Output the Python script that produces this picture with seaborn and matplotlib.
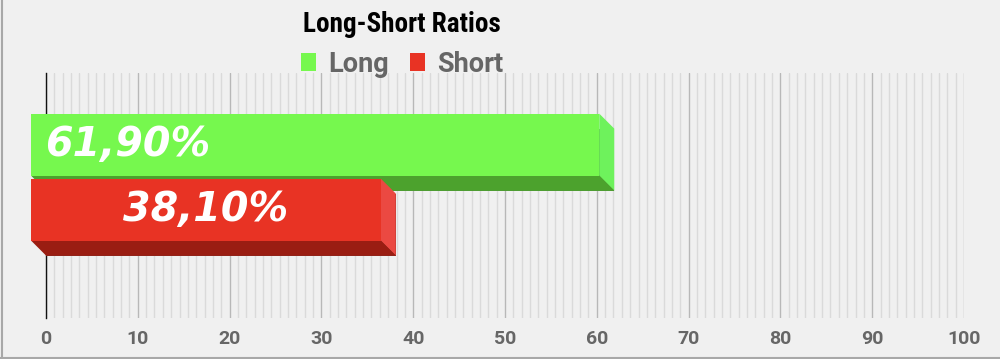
import numpy as np
import pandas as pd
import matplotlib
matplotlib.use("Agg")
import matplotlib.pyplot as plt
import seaborn as sns
from matplotlib.patches import Polygon, Rectangle, Patch
from matplotlib.transforms import IdentityTransform
from matplotlib.lines import Line2D
from matplotlib.ticker import FixedLocator
from matplotlib import font_manager

# ---------------- data ----------------
categories = ["Ratio"]
series = ["Long", "Short"]
values = [61.90, 38.10]
value_labels = ["61,90%", "38,10%"]
x_ticks = [0, 10, 20, 30, 40, 50, 60, 70, 80, 90, 100]
title_text = "Long-Short Ratios"

# ---------------- style ----------------
front_colors = ["#76f84e", "#e83324"]
side_colors = ["#6ef25c", "#eb4942"]
bottom_colors = ["#4ca22d", "#9a1d12"]
label_align = ["left", "center"]
BG = "#f0f0f0"
DEPTH = 15  # px


def pick_font(cands, weight="bold"):
    for c in cands:
        try:
            font_manager.findfont(font_manager.FontProperties(family=c, weight=weight),
                                  fallback_to_default=False)
            return c
        except Exception:
            pass
    return "DejaVu Sans"


sns.set_style("white")
ui_font = pick_font(["Roboto", "Lato", "DejaVu Sans"])
title_font = pick_font(["Roboto Condensed", "Liberation Sans Narrow", "Roboto"])
plt.rcParams["font.family"] = [ui_font, "DejaVu Sans"]

fig = plt.figure(figsize=(10, 3.59), dpi=100, facecolor=BG)
ax = fig.add_axes([46 / 1000, 41 / 359, 918 / 1000, 245 / 359])
ax.set_facecolor(BG)

df = pd.DataFrame({"cat": categories * len(series), "series": series, "value": values})
sns.barplot(data=df, y="cat", x="value", hue="series", orient="h",
            palette=dict(zip(series, bottom_colors)), width=0.53, gap=0.045,
            linewidth=0, legend=False, ax=ax, zorder=2)

ax.set_xlim(0, 100)
ax.set_ylim(0.514, -0.486)
ax.set_xlabel("")
ax.set_ylabel("")
ax.set_yticks([])
ax.set_xticks(x_ticks)
ax.set_xticklabels([str(t) for t in x_ticks])
minor = []
for a, b in zip(x_ticks[:-1], x_ticks[1:]):
    minor += [a + (b - a) * k / 11 for k in range(1, 11)]
ax.xaxis.set_minor_locator(FixedLocator(minor))
ax.grid(which="major", axis="x", color="#b8b8b8", lw=1.0, zorder=0)
ax.grid(which="minor", axis="x", color="#dadada", lw=1.0, zorder=0)
ax.grid(which="both", axis="y", visible=False)
ax.tick_params(axis="x", which="both", length=0, pad=9, labelsize=14,
               labelcolor="#666666")
for lab in ax.get_xticklabels():
    lab.set_fontweight("bold")
for s in ["top", "right", "bottom"]:
    ax.spines[s].set_visible(False)
ax.spines["left"].set_color("#111111")
ax.spines["left"].set_linewidth(1.0)
ax.spines["left"].set_zorder(1)

# ---------------- 3D bars ----------------
ident = IdentityTransform()
d = DEPTH
for i, p in enumerate(ax.patches):
    x0, y0 = p.get_x(), p.get_y()
    x1, y1 = x0 + p.get_width(), y0 + p.get_height()
    (X0, Ya), (X1, Yb) = ax.transData.transform([(x0, y0), (x1, y1)])
    Ylo, Yhi = min(Ya, Yb), max(Ya, Yb)
    z = 5 + i * 3
    side = Polygon([(X1 - d, Yhi + d), (X1, Yhi), (X1, Ylo), (X1 - d, Ylo + d)],
                   closed=True, facecolor=side_colors[i], edgecolor="none",
                   transform=ident, zorder=z)
    bottom = Polygon([(X0 - d, Ylo + d), (X1 - d, Ylo + d), (X1, Ylo), (X0, Ylo)],
                     closed=True, facecolor=bottom_colors[i], edgecolor="none",
                     transform=ident, zorder=z)
    front = Rectangle((X0 - d, Ylo + d), X1 - X0, Yhi - Ylo, facecolor=front_colors[i],
                      edgecolor="none", transform=ident, zorder=z + 1)
    for art in (side, bottom, front):
        fig.add_artist(art)
    base_y = Ylo + d + 19.5
    if label_align[i] == "left":
        tx = X0 - 1
    else:
        tx = (X0 - d + X1 - d) / 2
    fig.text(tx, base_y, value_labels[i], transform=ident, ha=label_align[i], va="baseline",
             color="white", fontsize=28.5, fontweight="bold", fontstyle="italic",
             family="DejaVu Sans", zorder=z + 2)

# ---------------- title & legend ----------------
fig.text(0.402, 1 - 32 / 359, title_text, ha="center", va="baseline", fontsize=19.5,
         fontweight="bold", color="black", family=[title_font, "DejaVu Sans"])

handles = [Patch(facecolor=c, edgecolor="none", label=s) for s, c in zip(series, front_colors)]
fig.legend(handles=handles, loc="center", bbox_to_anchor=(0.402, 1 - 64 / 359), ncol=2,
           frameon=False, prop={"family": [ui_font, "DejaVu Sans"], "weight": "bold", "size": 19.5},
           labelcolor="#666666", handlelength=0.55, handleheight=0.62, handletextpad=0.45,
           columnspacing=0.8, borderaxespad=0, borderpad=0)

# figure border (left & bottom)
fig.add_artist(Line2D([0.0015, 0.0015], [0, 1], transform=fig.transFigure, color="#a8a8a8", lw=1.5))
fig.add_artist(Line2D([0, 1], [0.004, 0.004], transform=fig.transFigure, color="#a8a8a8", lw=1.5))

fig.savefig("out.png", dpi=100, facecolor=BG)
